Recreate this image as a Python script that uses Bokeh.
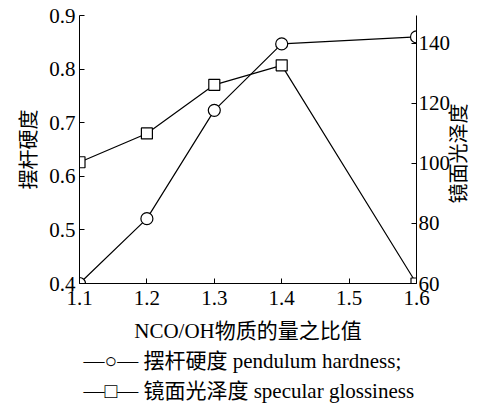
import math
from bokeh.plotting import figure
from bokeh.models import LinearAxis, Range1d, FixedTicker, CustomJSTickFormatter, Title
from bokeh.embed import file_html
from bokeh.resources import INLINE

# data
ratio = [1.1, 1.2, 1.3, 1.4, 1.6]
hardness = [0.40, 0.521, 0.723, 0.847, 0.86]
gloss = [100.4, 110.0, 126.2, 132.7, 60.0]
x_ticks = [1.1, 1.2, 1.3, 1.4, 1.5, 1.6]
left_ticks = [0.4, 0.5, 0.6, 0.7, 0.8, 0.9]
right_ticks = [60, 80, 100, 120, 140]
legend_rows = ["—○— 摆杆硬度 pendulum hardness;", "—□— 镜面光泽度 specular glossiness"]

SERIF = "'Liberation Serif', 'Noto Sans CJK SC'"
CJK = "'Noto Sans CJK SC'"

p = figure(width=491, height=406, output_backend="svg", toolbar_location=None,
           x_range=Range1d(1.1, 1.6), y_range=Range1d(0.4, 0.9),
           min_border_left=79, min_border_right=75, min_border_top=15, min_border_bottom=123)
p.outline_line_color = None
p.grid.visible = False
p.background_fill_color = "white"
p.border_fill_color = "white"

p.extra_y_ranges = {"gloss": Range1d(60, 149.3)}

def style_axis(ax):
    ax.axis_line_color = "black"
    ax.axis_line_width = 1
    ax.major_tick_line_color = "black"
    ax.major_tick_in = 5
    ax.major_tick_out = 0
    ax.minor_tick_line_color = None
    ax.major_label_text_font = SERIF
    ax.major_label_text_font_size = "21px"
    ax.major_label_text_color = "black"
    ax.axis_label_text_font_style = "normal"
    ax.axis_label_text_color = "black"
    ax.axis_label_text_font_size = "20px"

xa = p.xaxis[0]
style_axis(xa)
xa.ticker = FixedTicker(ticks=x_ticks)
xa.formatter = CustomJSTickFormatter(code="return tick.toFixed(1);")
xa.major_label_standoff = 7
xa.axis_label = "NCO/OH物质的量之比值"
xa.axis_label_text_font = SERIF
xa.axis_label_text_font_size = "21px"
xa.axis_label_standoff = 11

ya = p.yaxis[0]
style_axis(ya)
ya.ticker = FixedTicker(ticks=left_ticks)
ya.formatter = CustomJSTickFormatter(code="return tick.toFixed(1);")
ya.major_label_standoff = 4
ya.axis_label = "摆杆硬度"
ya.axis_label_text_font = CJK
ya.axis_label_standoff = 4

ra = LinearAxis(y_range_name="gloss")
style_axis(ra)
ra.ticker = FixedTicker(ticks=right_ticks)
ra.major_label_standoff = 2
ra.axis_label = "\u3000\u3000\u3000\u3000镜面光泽度"
ra.axis_label_text_font = CJK
ra.axis_label_standoff = 4
ra.axis_label_orientation = math.pi / 2
ra.axis_label_align = "start"
p.add_layout(ra, "right")

p.line(ratio, hardness, line_color="black", line_width=1.2)
p.scatter(ratio, hardness, marker="circle", size=12, fill_color="white",
          line_color="black", line_width=1.2)
p.line(ratio, gloss, y_range_name="gloss", line_color="black", line_width=1.2)
p.scatter(ratio, gloss, y_range_name="gloss", marker="square", size=11,
          fill_color="white", line_color="black", line_width=1.2)

for row, so in zip(legend_rows, [2, 7]):
    t = Title(text=row, align="left", offset=4, standoff=so,
              text_font=SERIF, text_font_size="21px", text_font_style="normal",
              text_color="black")
    p.add_layout(t, "below")

open("out.html", "w").write(file_html(p, INLINE))
